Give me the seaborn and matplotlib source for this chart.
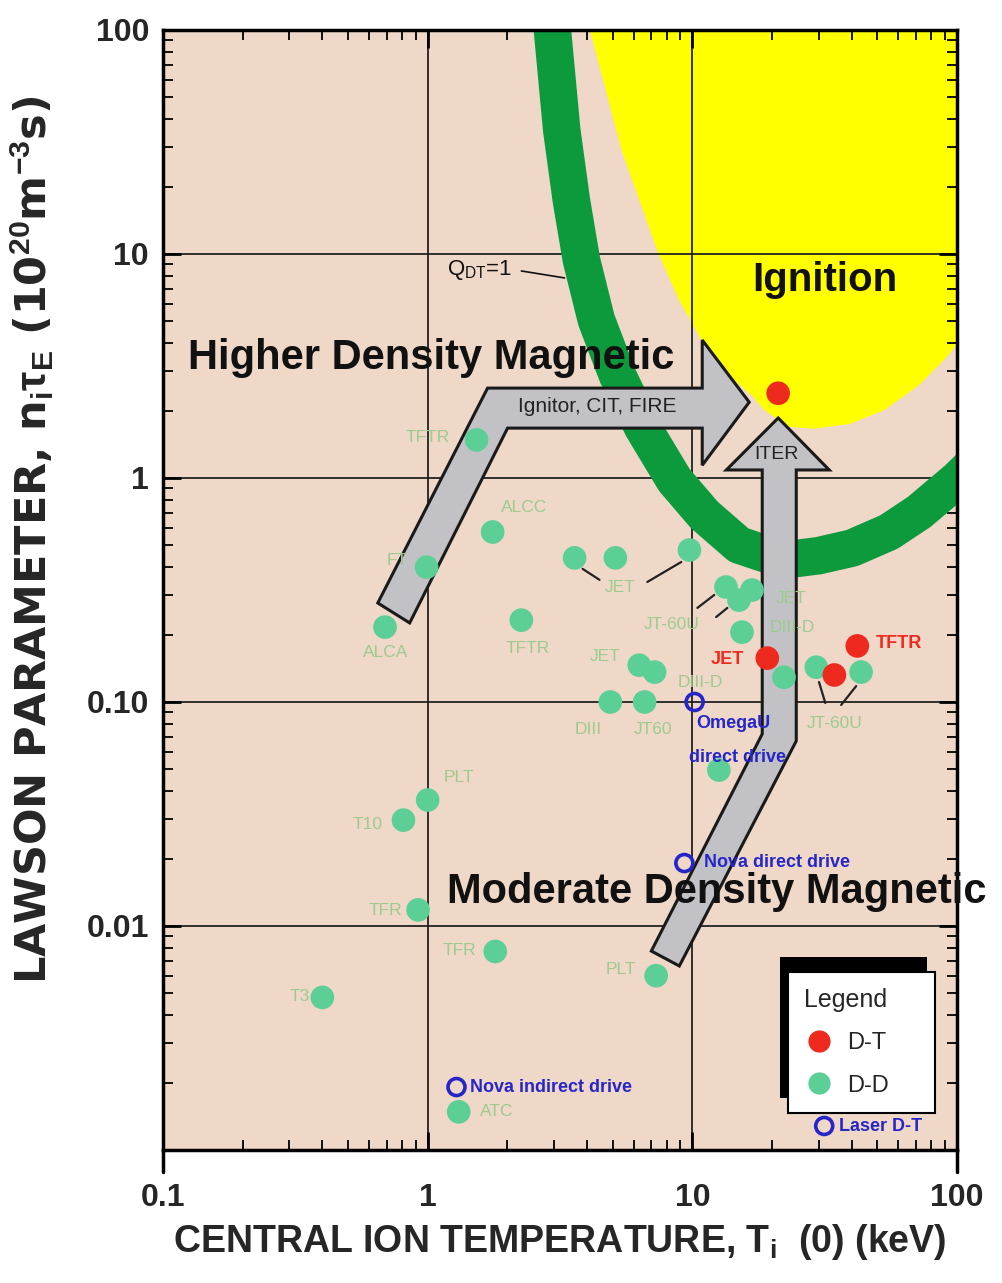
import pandas as pd
import matplotlib
matplotlib.use('Agg')
import matplotlib.pyplot as plt
import seaborn as sns
from matplotlib.patches import Polygon, Rectangle
from matplotlib.lines import Line2D

# ---- data (T in keV, n*tau in 1e20 m^-3 s) ----
dd_T = [1.53, 1.76, 0.99, 0.69, 2.26, 3.59, 5.12, 9.75, 13.4, 15.0, 16.8, 15.4,
        6.3, 7.2, 4.9, 6.6, 22.2, 29.4, 43.4, 12.6, 1.0, 0.81, 0.92, 1.8, 7.3, 0.40, 1.31]
dd_n = [1.48, 0.574, 0.40, 0.216, 0.232, 0.44, 0.44, 0.477, 0.326, 0.285, 0.316, 0.205,
        0.146, 0.136, 0.10, 0.10, 0.129, 0.143, 0.136, 0.0497, 0.0365, 0.0297, 0.0118,
        0.0077, 0.006, 0.0048, 0.00148]

dt_T = [19.2, 34.4, 42.0, 21.1]
dt_n = [0.157, 0.132, 0.178, 2.39]

laser_T = [10.2, 9.33, 1.285]
laser_n = [0.10, 0.0191, 0.00191]

dd_lbl_text = ['TFTR', 'ALCC', 'FT', 'ALCA', 'TFTR', 'JET', 'JT-60U', 'JET', 'DIII-D',
               'DIII', 'JT60', 'JET', 'DIII-D', 'JT-60U', 'PLT', 'T10', 'TFR', 'TFR',
               'PLT', 'T3', 'ATC']
dd_lbl_T = [1.0, 2.32, 0.764, 0.695, 2.38, 5.35, 8.34, 4.70, 10.7, 4.05, 7.13, 23.6, 23.8,
            34.4, 1.31, 0.594, 0.695, 1.32, 5.35, 0.329, 1.82]
dd_lbl_n = [1.52, 0.742, 0.430, 0.1656, 0.174, 0.326, 0.221, 0.159, 0.1216, 0.075, 0.075,
            0.291, 0.214, 0.0805, 0.0462, 0.0283, 0.01178, 0.00781, 0.00637, 0.00482, 0.00148]

dt_lbl_text = ['JET', 'TFTR']
dt_lbl_T = [13.6, 60.4]
dt_lbl_n = [0.154, 0.183]

laser_lbl_text = ['OmegaU', 'direct drive', 'Nova direct drive', 'Nova indirect drive']
laser_lbl_T = [10.35, 9.75, 11.1, 1.44]
laser_lbl_n = [0.0805, 0.0568, 0.0193, 0.00191]

# leader lines (pairs of endpoints)
leader_T = [(3.85, 4.46), (6.76, 9.08), (10.45, 12.1), (12.3, 13.56), (30.1, 31.8), (41.6, 36.5)]
leader_n = [(0.393, 0.351), (0.3435, 0.4217), (0.263, 0.3006), (0.2395, 0.263),
            (0.1228, 0.099), (0.1178, 0.097)]

# ignition region boundary
ign_T = [4.1, 5.4, 7.4, 8.9, 10.3, 11.8, 17.0, 18.7, 23.2, 28.8, 39.2, 53.1, 71.9, 89.3, 100, 100]
ign_n = [100, 29.1, 10.2, 6.24, 4.6, 3.37, 2.3, 2.01, 1.69, 1.66, 1.74, 2.01, 2.60, 3.37, 3.93, 100]

# Q_DT = 1 band centre line
q1_T = [2.9, 2.96, 3.21, 3.49, 3.81, 4.34, 5.21, 6.48, 8.55, 11.1, 15.0, 22.2, 30.0, 40.2,
        55.3, 71.9, 100, 115]
q1_n = [130, 100, 35.8, 17.4, 9.40, 5.07, 2.88, 1.69, 0.98, 0.684, 0.502, 0.43, 0.45, 0.487,
        0.574, 0.705, 0.98, 1.15]

# big arrows
arrow_hi_T = [0.648, 1.684, 10.9, 10.9, 16.4, 10.9, 10.9, 2.004, 0.855]
arrow_hi_n = [0.2767, 2.52, 2.52, 4.13, 2.18, 1.14, 1.67, 1.67, 0.2254]
arrow_iter_T = [7.00, 18.37, 18.37, 13.44, 21.11, 32.9, 24.7, 24.7, 8.93]
arrow_iter_n = [0.00773, 0.0720, 1.086, 1.086, 1.853, 1.086, 1.086, 0.0670, 0.00663]

BG = '#efd8c8'
DD_GREEN = '#5ccf96'
DD_TEXT = '#9ccb8e'
RED = '#ee2a1e'
BLUE = '#2626c8'
BAND = '#0c9a3c'
ARROW_GRAY = '#c2c2c6'

sns.set_style('ticks')
plt.rcParams['font.family'] = ['Liberation Sans', 'DejaVu Sans']
plt.rcParams['mathtext.fontset'] = 'custom'
plt.rcParams['mathtext.rm'] = 'Liberation Sans'
plt.rcParams['mathtext.it'] = 'Liberation Sans:italic'
plt.rcParams['mathtext.bf'] = 'Liberation Sans:bold'

fig = plt.figure(figsize=(10.03, 12.83), dpi=100)
ax = fig.add_axes([163 / 1003, 1 - 1150 / 1283, 794 / 1003, 1120 / 1283])
ax.set_facecolor(BG)
ax.set_xscale('log')
ax.set_yscale('log')
ax.set_xlim(0.1, 100)
ax.set_ylim(0.001, 100)

# ignition region and Q=1 band
ax.add_patch(Polygon(list(zip(ign_T, ign_n)), closed=True, facecolor='#ffff00',
                     edgecolor='none', zorder=0.3))
ax.set_axisbelow(True)
ax.grid(True, which='major', color='#222222', lw=1.3)
ax.plot(q1_T, q1_n, color=BAND, lw=27, solid_joinstyle='round', solid_capstyle='butt', zorder=1)

# arrows
for aT, an in [(arrow_hi_T, arrow_hi_n), (arrow_iter_T, arrow_iter_n)]:
    ax.add_patch(Polygon(list(zip(aT, an)), closed=True, facecolor=ARROW_GRAY,
                         edgecolor='#1a1a1a', lw=2.2, joinstyle='miter', zorder=2))

# points
sns.scatterplot(data=pd.DataFrame({'T': dd_T, 'n': dd_n}), x='T', y='n', ax=ax, s=290,
                color=DD_GREEN, edgecolor='none', zorder=4, legend=False)
sns.scatterplot(data=pd.DataFrame({'T': dt_T, 'n': dt_n}), x='T', y='n', ax=ax, s=290,
                color=RED, edgecolor='none', zorder=5, legend=False)
sns.scatterplot(data=pd.DataFrame({'T': laser_T, 'n': laser_n}), x='T', y='n', ax=ax, s=150,
                facecolor='none', edgecolor=BLUE, linewidth=2.6, zorder=5, legend=False)

for t, x, y in zip(dd_lbl_text, dd_lbl_T, dd_lbl_n):
    ax.text(x, y, t, color=DD_TEXT, fontsize=12.5, ha='center', va='center', zorder=3.5)
for t, x, y in zip(dt_lbl_text, dt_lbl_T, dt_lbl_n):
    ax.text(x, y, t, color=RED, fontsize=13, fontweight='bold', ha='center', va='center', zorder=6)
for t, x, y in zip(laser_lbl_text, laser_lbl_T, laser_lbl_n):
    ax.text(x, y, t, color=BLUE, fontsize=13, fontweight='bold', ha='left', va='center', zorder=6)
for lt, ln in zip(leader_T, leader_n):
    ax.plot(lt, ln, color='#222222', lw=1.6, zorder=3.5)

# region annotations
ax.text(0.124, 3.43, 'Higher Density Magnetic', fontsize=30, fontweight='bold',
        ha='left', va='center', color='#111111', zorder=6)
ax.text(1.18, 0.0142, 'Moderate Density Magnetic', fontsize=30, fontweight='bold',
        ha='left', va='center', color='#111111', zorder=6, clip_on=False)
ax.text(31.8, 7.66, 'Ignition', fontsize=29, fontweight='bold', ha='center', va='center',
        color='#111111', zorder=6)
ax.text(4.38, 2.08, 'Ignitor, CIT, FIRE', fontsize=15, ha='center', va='center',
        color='#222222', zorder=6)
ax.text(20.8, 1.27, 'ITER', fontsize=14, ha='center', va='center', color='#222222', zorder=6)
ax.text(1.18, 8.49, r'Q$_{\rm DT}$=1', fontsize=16, ha='left', va='center',
        color='#111111', zorder=6)
ax.plot([2.26, 3.29], [8.4, 7.82], color='#111111', lw=1.2, zorder=6)

# laser key under the legend box
ax.scatter([31.5], [0.00128], s=150, facecolor='none', edgecolor=BLUE, linewidth=2.6, zorder=6)
ax.text(35.9, 0.001268, 'Laser D-T', color=BLUE, fontsize=13, fontweight='bold',
        ha='left', va='center', zorder=6)

# axes styling
for s in ax.spines.values():
    s.set_linewidth(2.5)
    s.set_color('black')
ax.tick_params(which='both', direction='in', top=True, right=True, color='black')
ax.tick_params(which='major', length=13, width=2)
ax.tick_params(which='minor', length=7, width=1.3)
ax.tick_params(axis='x', which='major', pad=24)
ax.tick_params(axis='y', which='major', pad=10)
ax.set_xticks([0.1, 1, 10, 100])
ax.set_xticklabels(['0.1', '1', '10', '100'], fontsize=23, fontweight='bold')
ax.set_yticks([0.001, 0.01, 0.1, 1, 10, 100])
ax.set_yticklabels(['', '0.01', '0.10', '1', '10', '100'], fontsize=23, fontweight='bold')
ax.set_xlabel(r'CENTRAL ION TEMPERATURE, T$_{\mathbf{i}}$  (0) (keV)', fontsize=27,
              fontweight='bold', labelpad=6)
ax.set_ylabel(r'LAWSON PARAMETER, n$_{\mathbf{i}}\mathbf{\tau}_{\mathbf{E}}$ (10$^{\mathbf{20}}$m$^{\mathbf{-3}}$s)',
              fontsize=31, fontweight='bold', family=['DejaVu Sans'])
ax.yaxis.set_label_coords(-0.135, 0.545)
for xa in (0, 1):
    ax.add_line(Line2D([xa, xa], [0, -0.02], transform=ax.transAxes, color='black',
                       lw=2.5, clip_on=False))

# legend with offset black shadow
handles = [Line2D([], [], marker='o', ls='none', color=RED, markersize=15, label='D-T'),
           Line2D([], [], marker='o', ls='none', color=DD_GREEN, markersize=15, label='D-D')]
leg = ax.legend(handles=handles, title='Legend', loc='lower left', mode='expand',
                bbox_to_anchor=(0.787, 0.033, 0.185, 0.128), borderaxespad=0,
                fontsize=17, title_fontsize=18,
                frameon=True, fancybox=False, edgecolor='black', framealpha=1,
                alignment='left', labelspacing=0.85, handletextpad=0.6, borderpad=0.7,
                handlelength=1.2)
leg.get_frame().set_linewidth(1.5)
leg.set_zorder(8)
fig.canvas.draw()
bb = leg.get_window_extent().transformed(ax.transAxes.inverted())
ax.add_patch(Rectangle((bb.x0 - 0.0101, bb.y0 + 0.0134), bb.width, bb.height,
                       transform=ax.transAxes, facecolor='black', edgecolor='none',
                       zorder=7.5, clip_on=False))

fig.savefig('out.png', dpi=100, facecolor='white')
